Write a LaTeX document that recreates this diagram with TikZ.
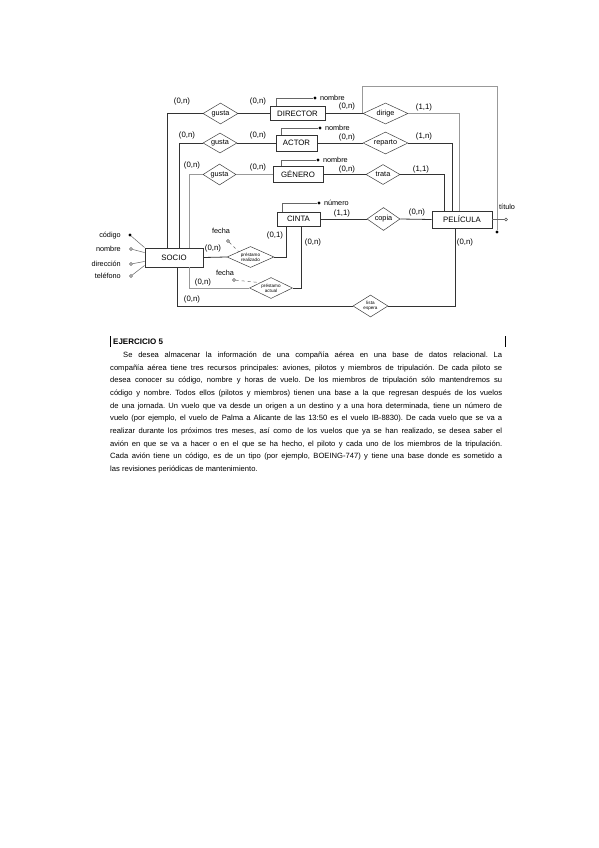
\documentclass[tikz,border=0pt]{standalone}
\usepackage{fontspec}
\setmainfont{Liberation Sans}
\usetikzlibrary{positioning,shapes.geometric}
\usepackage{xcolor}
\frenchspacing

\begin{document}
\begin{tikzpicture}[
        x=1pt, y=-1pt,
        ent/.style={
            draw=black!80,
            line width=0.9pt,
            inner sep=0pt,
            font=\fontsize{7.8}{9}\selectfont
        },
        rel/.style={
            diamond,
            aspect=2,
            draw=black!75,
            line width=0.5pt,
            inner sep=0pt,
            font=\fontsize{7.3}{8}\selectfont
        },
        tinyrel/.style={rel, align=center, font=\fontsize{4.6}{5}\selectfont},
        card/.style={inner sep=0pt, font=\fontsize{7.8}{9}\selectfont},
        attname/.style={inner sep=0pt, font=\fontsize{7.3}{8}\selectfont},
        keydot/.style={circle, fill=black, inner sep=0pt, minimum size=3.2pt},
        attdot/.style={circle, draw=black!70, fill=white, line width=0.4pt, inner sep=0pt, minimum size=3pt},
        link/.style={line width=0.8pt, black!80},
        lightlink/.style={line width=0.6pt, black!40},
        attlink/.style={line width=0.5pt, black!60}
    ]
        \fill[white] (0,0) rectangle (599,848);
        \useasboundingbox (0,0) rectangle (599,848);

        % Entidades
        \node[ent, minimum width=55pt, minimum height=14pt] (director) at (297.5,113.5) {DIRECTOR};
        \node[ent, minimum width=41pt, minimum height=16pt] (actor) at (296.5,143) {ACTOR};
        \node[ent, minimum width=50pt, minimum height=16pt] (genero) at (298,174.5) {GÉNERO};
        \node[ent, minimum width=43pt, minimum height=14pt] (cinta) at (298.5,219) {CINTA};
        \node[ent, minimum width=60pt, minimum height=17pt] (pelicula) at (462,219.5) {PELÍCULA};
        \node[ent, minimum width=58pt, minimum height=19pt] (socio) at (174,257.5) {SOCIO};

        % Relaciones
        \node[rel, minimum width=35pt, minimum height=21pt] (gusta1) at (220.5,113.5) {gusta};
        \node[rel, minimum width=34pt, minimum height=20pt] (gusta2) at (220,143) {gusta};
        \node[rel, minimum width=33pt, minimum height=21pt] (gusta3) at (219.5,174.5) {gusta};
        \node[rel, minimum width=45pt, minimum height=21pt] (dirige) at (385.5,113.5) {dirige};
        \node[rel, minimum width=45pt, minimum height=22pt] (reparto) at (385.5,143) {reparto};
        \node[rel, minimum width=34pt, minimum height=20pt] (trata) at (383,174.5) {trata};
        \node[rel, minimum width=33pt, minimum height=23pt] (copia) at (383.5,219) {copia};
        \node[tinyrel, minimum width=47pt, minimum height=21pt] (prestreal) at (250.5,257) {préstamo\\realizado};
        \node[tinyrel, minimum width=43pt, minimum height=21pt] (prestact) at (271,288) {préstamo\\actual};
        \node[tinyrel, minimum width=35pt, minimum height=22pt] (lista) at (370.5,306) {lista\\espera};

        % SOCIO con las relaciones
        \draw[link] (gusta1.east) -- (director.west);
        \draw[link] (gusta2.east) -- (actor.west);
        \draw[lightlink] (gusta3.east) -- (genero.west);
        \draw[link] (gusta1.west) -| ([xshift=-7pt]socio.north);
        \draw[link] (gusta2.west) -| ([xshift=5pt]socio.north);
        \draw[lightlink] (gusta3.west) -| ([xshift=15pt]socio.north);
        \draw[lightlink] ([xshift=15pt]socio.south) |- (prestact.west);
        \draw[link] ([xshift=3pt]socio.south) |- (lista.west);
        \draw[link] (socio.east) -- (prestreal.west);
        \draw[link] (prestreal.east) -| ([xshift=-12.5pt]cinta.south);
        \draw[link] (prestact.east) -| ([xshift=2.5pt]cinta.south);

        % PELÍCULA con las relaciones
        \draw[link] (director.east) -- (dirige.west);
        \draw[link] (actor.east) -- (reparto.west);
        \draw[link] (genero.east) -- (trata.west);
        \draw[link] (cinta.east) -- (copia.west);
        \draw[link] (copia.east) -- (pelicula.west);
        \draw[lightlink] (dirige.east) -| ([xshift=-3pt]pelicula.north);
        \draw[link] (reparto.east) -| ([xshift=-10pt]pelicula.north);
        \draw[link] (trata.east) -| ([xshift=-18pt]pelicula.north);
        \draw[link] (lista.east) -| ([xshift=-7pt]pelicula.south);

        % Atributos
        \node[keydot] (dnombre) at (315,98) {};
        \node[attname, right=3pt of dnombre] (dnombrel) {nombre};
        \draw[attlink] ([xshift=7pt]director.north west) |- (dnombre);
        \node[keydot] (anombre) at (320,128) {};
        \node[attname, right=3pt of anombre] (anombrel) {nombre};
        \draw[attlink] ([xshift=6pt]actor.north west) |- (anombre);
        \node[keydot] (gnombre) at (318,160) {};
        \node[attname, right=3pt of gnombre] (gnombrel) {nombre};
        \draw[attlink] ([xshift=9pt]genero.north west) |- (gnombre);
        \node[keydot] (cnumero) at (319,203) {};
        \node[attname, right=3pt of cnumero] (cnumerol) {número};
        \draw[attlink] ([xshift=6pt]cinta.north west) |- (cnumero);

        \node[keydot] (pdot) at (497,232) {};
        \draw[lightlink] (dirige.west) -- ([yshift=27.5pt]dirige.west) -| (pdot);
        \node[attdot] (ptitulo) at (506,219.5) {};
        \node[attname, anchor=west] (ptitulol) at (499,206.5) {título};
        \draw[attlink] (pelicula.east) -- (ptitulo);

        \node[keydot] (scodigo) at (130,235) {};
        \node[attname, anchor=east] (scodigol) at (121,236) {código};
        \node[attdot] (snombre) at (131,249) {};
        \node[attname, anchor=east] (snombrel) at (121,248.5) {nombre};
        \node[attdot] (sdireccion) at (131,264) {};
        \node[attname, anchor=east] (sdireccionl) at (121,264) {dirección};
        \node[attdot] (stelefono) at (131,276) {};
        \node[attname, anchor=east] (stelefonol) at (121,276) {teléfono};
        \draw[attlink] (scodigo) -- (socio.north west);
        \draw[attlink] (snombre) -- ([yshift=-5pt]socio.north west);
        \draw[attlink] (sdireccion) -- ([yshift=6pt]socio.south west);
        \draw[attlink] (stelefono) -- ([yshift=2pt]socio.south west);

        \node[attdot] (f1dot) at (228,241) {};
        \node[attname] (f1) at (221,231) {fecha};
        \draw[attlink, dashed] (f1dot) -- (prestreal.north west);
        \node[attdot] (f2dot) at (234,280) {};
        \node[attname] (f2) at (225,272.5) {fecha};
        \draw[attlink, dashed] (f2dot) -- (prestact.north west);

        % Cardinalidades
        \node[card] (k1) at (182,101) {(0,n)};
        \node[card] (k2) at (258,101) {(0,n)};
        \node[card] (k3) at (187,135) {(0,n)};
        \node[card] (k4) at (258,135) {(0,n)};
        \node[card] (k5) at (192,165) {(0,n)};
        \node[card] (k6) at (258,167) {(0,n)};
        \node[card] (k7) at (347,106) {(0,n)};
        \node[card] (k8) at (424,107) {(1,1)};
        \node[card] (k9) at (347,137) {(0,n)};
        \node[card] (k10) at (424,136) {(1,n)};
        \node[card] (k11) at (347,169) {(0,n)};
        \node[card] (k12) at (421,169) {(1,1)};
        \node[card] (k13) at (342,213) {(1,1)};
        \node[card] (k14) at (417,212) {(0,n)};
        \node[card] (k15) at (465,242) {(0,n)};
        \node[card] (k16) at (213,248) {(0,n)};
        \node[card] (k17) at (275,235) {(0,1)};
        \node[card] (k18) at (313,242) {(0,n)};
        \node[card] (k19) at (203,282) {(0,n)};
        \node[card] (k20) at (192,299) {(0,n)};

        % Enunciado
        \draw[line width=0.9pt] (110,336) -- (110,347);
        \draw[line width=0.9pt] (505,336) -- (505,347);
        \node[anchor=west, inner sep=0pt, font=\fontsize{8}{9.6}\selectfont\bfseries] (titulo) at (113,341.5) {EJERCICIO 5};
        \node[anchor=north west, inner sep=0pt, text width=392pt, align=justify, font=\fontsize{7.6}{12.7}\selectfont] (enunciado) at (110,351.5) {\hspace*{13pt}Se desea almacenar la información de una compañía aérea en una base de datos relacional. La\linebreak
        compañía aérea tiene tres recursos principales: aviones, pilotos y miembros de tripulación. De cada piloto se\linebreak
        desea conocer su código, nombre y horas de vuelo. De los miembros de tripulación sólo mantendremos su\linebreak
        código y nombre. Todos ellos (pilotos y miembros) tienen una base a la que regresan después de los vuelos\linebreak
        de una jornada. Un vuelo que va desde un origen a un destino y a una hora determinada, tiene un número de\linebreak
        vuelo (por ejemplo, el vuelo de Palma a Alicante de las 13:50 es el vuelo IB-8830). De cada vuelo que se va a\linebreak
        realizar durante los próximos tres meses, así como de los vuelos que ya se han realizado, se desea saber el\linebreak
        avión en que se va a hacer o en el que se ha hecho, el piloto y cada uno de los miembros de la tripulación.\linebreak
        Cada avión tiene un código, es de un tipo (por ejemplo, BOEING-747) y tiene una base donde es sometido a\linebreak
        las revisiones periódicas de mantenimiento.};
    \end{tikzpicture}
\end{document}
